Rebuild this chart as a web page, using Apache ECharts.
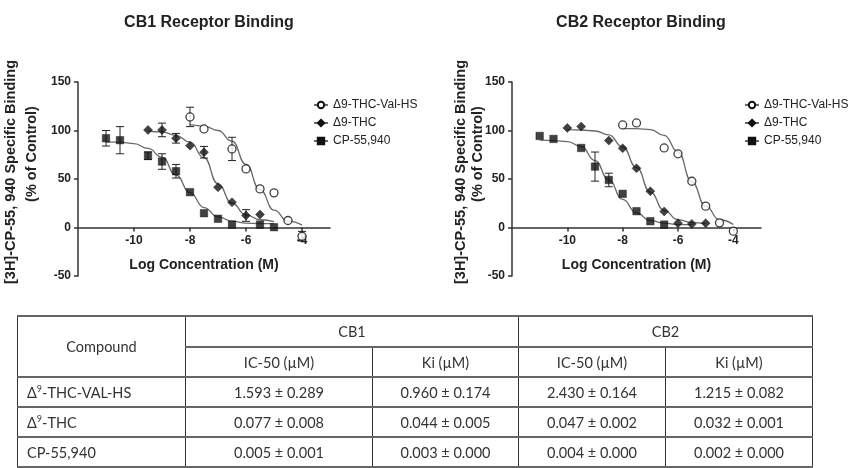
<!DOCTYPE html>
<html>
<head>
<meta charset="utf-8">
<script src="https://cdn.jsdelivr.net/npm/echarts@6/dist/echarts.min.js"></script>
<style>
  html, body { margin:0; padding:0; background:#fff; }
  #chart { position:absolute; left:0; top:0; width:864px; height:468px; }
  #tbl { position:absolute; left:17px; top:315px; border-collapse:collapse; table-layout:fixed;
         font-family: Lato, 'Open Sans', 'Liberation Sans', sans-serif; font-size:14.5px; color:#333; }
  #tbl td { border-left:1px solid #333; border-right:1px solid #333; border-top:2px solid #666; border-bottom:2px solid #666;
            text-align:center; padding:0; font-weight:normal; }
  #tbl td.lbl { text-align:left; padding-left:9px; }
  #tbl sup { font-size:9px; line-height:0; }
</style>
</head>
<body>
<div id="chart"></div>
<table id="tbl"></table>
<script>
// ---------- data ----------
const compounds = ['Δ9-THC-Val-HS', 'Δ9-THC', 'CP-55,940'];
const xTickValues = [-10, -8, -6, -4];
const yTickValues = [-50, 0, 50, 100, 150];

// CB1 measured points (log M, % of control) and SEM
const cb1ValX = [-8, -7.5, -6.5, -6, -5.5, -5, -4.5, -4];
const cb1ValY = [114, 101.6, 81, 60.4, 39.8, 35.7, 7.2, -9];
const cb1ValErr = [10, 0, 12, 0, 0, 0, 0, 5];
const cb1ThcX = [-9.5, -9, -8.5, -8, -7.5, -7, -6.5, -6, -5.5];
const cb1ThcY = [100.6, 100.6, 92, 84.4, 77.6, 41.5, 26, 12.4, 13.4];
const cb1ThcErr = [0, 7, 5, 0, 6, 0, 0, 6, 0];
const cb1CpX = [-11, -10.5, -9.5, -9, -8.5, -8, -7.5, -7, -6.5, -5.5, -5];
const cb1CpY = [92, 90, 74, 68, 58, 36.4, 14.7, 9, 3, 3, 0.3];
const cb1CpErr = [8, 14, 4, 8, 7, 0, 0, 0, 0, 0, 0];

// CB1 fitted curves
const cb1ValFitX = [-8, -7.5, -7, -6.5, -6, -5.5, -5, -4.5, -4];
const cb1ValFitY = [106, 104.5, 100, 89, 65, 39, 18, 6.5, 2.5];
const cb1ThcFitX = [-9.5, -9, -8.5, -8, -7.5, -7, -6.5, -6, -5.5, -5];
const cb1ThcFitY = [99.5, 98.5, 95, 88, 72, 45, 25, 13, 8, 6];
const cb1CpFitX = [-11, -10.5, -10, -9.5, -9, -8.5, -8, -7.5, -7, -6.5, -6, -5.5, -5];
const cb1CpFitY = [88, 88, 86.5, 81.5, 72.5, 54, 36, 20.5, 11, 6.5, 4.5, 4, 4];

// CB2 measured points
const cb2ValX = [-8, -7.5, -6.5, -6, -5.5, -5, -4.5, -4];
const cb2ValY = [105.7, 107.8, 82, 76, 47.7, 22, 4.8, -3.8];
const cb2ValErr = [0, 0, 0, 0, 0, 0, 0, 0];
const cb2ThcX = [-10, -9.5, -8.5, -8, -7.5, -7, -6.5, -6, -5.5, -5];
const cb2ThcY = [102.7, 104, 89.6, 81.7, 61, 37.4, 16.5, 4.5, 3.7, 4.5];
const cb2ThcErr = [0, 0, 0, 0, 0, 0, 0, 0, 0, 0];
const cb2CpX = [-11, -10.5, -9.5, -9, -8.5, -8, -7.5, -7, -6.5];
const cb2CpY = [94.4, 91.3, 82, 62.8, 49, 34.7, 16.8, 6.5, 3];
const cb2CpErr = [0, 0, 0, 15, 7, 0, 0, 0, 0];

// CB2 fitted curves
const cb2ValFitX = [-8, -7.5, -7, -6.5, -6, -5.5, -5, -4.5, -4];
const cb2ValFitY = [102, 102, 101, 95, 78, 47, 22, 8, 3];
const cb2ThcFitX = [-10, -9.5, -9, -8.5, -8, -7.5, -7, -6.5, -6, -5.5, -5];
const cb2ThcFitY = [101, 100.5, 99.5, 95.5, 83, 62, 36.5, 17.5, 8, 5, 4];
const cb2CpFitX = [-11, -10.5, -10, -9.5, -9, -8.5, -8, -7.5, -7, -6.5, -6, -5.5];
const cb2CpFitY = [90, 89.5, 88.5, 83.5, 69, 49, 29, 15, 7, 4.5, 3, 3];

// table
const tableHeaderGroups = ['CB1', 'CB2'];
const tableHeaderCols = ['IC-50 (µM)', 'Ki (µM)', 'IC-50 (µM)', 'Ki (µM)'];
const tableRowLabels = ['Δ<sup>9</sup>-THC-VAL-HS', 'Δ<sup>9</sup>-THC', 'CP-55,940'];
const tableRow1 = ['1.593 ± 0.289', '0.960 ± 0.174', '2.430 ± 0.164', '1.215 ± 0.082'];
const tableRow2 = ['0.077 ± 0.008', '0.044 ± 0.005', '0.047 ± 0.002', '0.032 ± 0.001'];
const tableRow3 = ['0.005 ± 0.001', '0.003 ± 0.000', '0.004 ± 0.000', '0.002 ± 0.000'];

// ---------- build ----------
const FONT = "'Liberation Sans', Arial, sans-serif";
const zip = (xs, ys) => xs.map((x, i) => [x, ys[i]]);
const zipErr = (xs, ys, es) => xs.map((x, i) => [x, ys[i], es[i]]).filter(d => d[2] > 0);

const styles = [
  { symbol: 'circle', size: 8, item: { color: '#fff', borderColor: '#111', borderWidth: 1.3 } },
  { symbol: 'diamond', size: 9, item: { color: '#111', borderColor: '#111', borderWidth: 0.5 } },
  { symbol: 'rect', size: 7.5, item: { color: '#111', borderColor: '#111', borderWidth: 0.5 } }
];

function errRender(params, api) {
  const x = api.value(0), y = api.value(1), e = api.value(2);
  const hi = api.coord([x, y + e]), lo = api.coord([x, y - e]);
  const w = 4;
  const st = { stroke: '#222', lineWidth: 1 };
  return { type: 'group', children: [
    { type: 'line', shape: { x1: hi[0], y1: hi[1], x2: lo[0], y2: lo[1] }, style: st },
    { type: 'line', shape: { x1: hi[0] - w, y1: hi[1], x2: hi[0] + w, y2: hi[1] }, style: st },
    { type: 'line', shape: { x1: lo[0] - w, y1: lo[1], x2: lo[0] + w, y2: lo[1] }, style: st }
  ]};
}

const panels = [
  { fits: [[cb1ValFitX, cb1ValFitY], [cb1ThcFitX, cb1ThcFitY], [cb1CpFitX, cb1CpFitY]],
    pts: [[cb1ValX, cb1ValY, cb1ValErr], [cb1ThcX, cb1ThcY, cb1ThcErr], [cb1CpX, cb1CpY, cb1CpErr]] },
  { fits: [[cb2ValFitX, cb2ValFitY], [cb2ThcFitX, cb2ThcFitY], [cb2CpFitX, cb2CpFitY]],
    pts: [[cb2ValX, cb2ValY, cb2ValErr], [cb2ThcX, cb2ThcY, cb2ThcErr], [cb2CpX, cb2CpY, cb2CpErr]] }
];

const series = [];
panels.forEach((p, gi) => {
  p.fits.forEach((f, si) => {
    series.push({
      type: 'line', name: compounds[si], xAxisIndex: gi, yAxisIndex: gi,
      data: zip(f[0], f[1]), smooth: 0.5, smoothMonotone: 'x',
      symbol: styles[si].symbol, symbolSize: styles[si].size, showSymbol: false,
      itemStyle: styles[si].item,
      lineStyle: { color: '#6a6a6a', width: 1.3 }, z: 2, silent: true
    });
  });
  p.pts.forEach((d, si) => {
    series.push({
      type: 'custom', xAxisIndex: gi, yAxisIndex: gi, renderItem: errRender,
      data: zipErr(d[0], d[1], d[2]), z: 3, silent: true
    });
    series.push({
      type: 'scatter', name: compounds[si], xAxisIndex: gi, yAxisIndex: gi,
      data: zip(d[0], d[1]), symbol: styles[si].symbol, symbolSize: styles[si].size,
      itemStyle: styles[si].item, z: 4, silent: true
    });
  });
});

const Y_MIN = -50, Y_MAX = 150, GRID_H = 194;
const gridDefs = [
  { left: 78, top: 82, width: 252, height: GRID_H, outerBoundsMode: 'none', containLabel: false },
  { left: 512, top: 82, width: 249, height: GRID_H, outerBoundsMode: 'none', containLabel: false }
];
// shift the x axis up from the grid bottom to the y = 0 line
const zeroOffset = -GRID_H * (0 - Y_MIN) / (Y_MAX - Y_MIN);

const axisLineStyle = { color: '#333', width: 1.5 };
const xAxes = gridDefs.map((g, i) => ({
  type: 'value', gridIndex: i, min: -12, max: -3, interval: 2, position: 'bottom', offset: zeroOffset,
  axisLine: { onZero: false, lineStyle: axisLineStyle },
  axisTick: { show: true, length: 4, inside: false, customValues: xTickValues, lineStyle: axisLineStyle },
  axisLabel: { customValues: xTickValues, margin: 7, fontSize: 12, fontWeight: 'bold', color: '#222', fontFamily: FONT,
               formatter: v => (xTickValues.indexOf(v) >= 0 ? String(v) : '') },
  splitLine: { show: false },
  name: 'Log Concentration (M)', nameLocation: 'middle', nameGap: 31,
  nameTextStyle: { fontSize: 14, fontWeight: 'bold', color: '#222', fontFamily: FONT }
}));
const yAxes = gridDefs.map((g, i) => ({
  type: 'value', gridIndex: i, min: Y_MIN, max: Y_MAX, interval: 50,
  axisLine: { show: true, onZero: false, lineStyle: axisLineStyle },
  axisTick: { show: true, length: 4, lineStyle: axisLineStyle },
  axisLabel: { margin: 7, fontSize: 12, fontWeight: 'bold', color: '#222', fontFamily: FONT },
  splitLine: { show: false }
}));

const yTitle1 = '[3H]-CP-55, 940 Specific Binding';
const yTitle2 = '(% of Control)';
const ytStyle = { fontSize: 14.5, fontWeight: 'bold', fill: '#222', fontFamily: FONT, textAlign: 'center', textVerticalAlign: 'middle' };
function yTitle(x, y, text) {
  return { type: 'text', x: x, y: y, rotation: Math.PI / 2, style: Object.assign({ text: text }, ytStyle) };
}

const legendBase = {
  orient: 'vertical', itemWidth: 14, itemHeight: 8, itemGap: 6, top: 99, padding: 0, selectedMode: false,
  data: compounds, textStyle: { fontSize: 12, color: '#222', fontFamily: FONT }
};

const chart = echarts.init(document.getElementById('chart'), null, { renderer: 'canvas' });
chart.setOption({
  animation: false,
  backgroundColor: '#fff',
  title: [
    { text: 'CB1 Receptor Binding', left: 204, top: 10, textAlign: 'center',
      textStyle: { fontSize: 16, fontWeight: 'bold', color: '#222', fontFamily: FONT } },
    { text: 'CB2 Receptor Binding', left: 636, top: 10, textAlign: 'center',
      textStyle: { fontSize: 16, fontWeight: 'bold', color: '#222', fontFamily: FONT } }
  ],
  legend: [
    Object.assign({}, legendBase, { left: 313 }),
    Object.assign({}, legendBase, { left: 744 })
  ],
  grid: gridDefs,
  xAxis: xAxes,
  yAxis: yAxes,
  series: series,
  graphic: [
    yTitle(11, 172, yTitle1), yTitle(32, 154, yTitle2),
    yTitle(461, 172, yTitle1), yTitle(478, 154, yTitle2)
  ]
});

// table
const tbl = document.getElementById('tbl');
const colW = [168, 187, 146, 147, 147];
let html = '<colgroup>' + colW.map(w => '<col style="width:' + w + 'px">').join('') + '</colgroup>';
html += '<tr style="height:31px"><td rowspan="2">Compound</td>' +
        tableHeaderGroups.map(g => '<td colspan="2">' + g + '</td>').join('') + '</tr>';
html += '<tr style="height:30px">' + tableHeaderCols.map(c => '<td>' + c + '</td>').join('') + '</tr>';
[tableRow1, tableRow2, tableRow3].forEach((r, i) => {
  html += '<tr style="height:30px"><td class="lbl">' + tableRowLabels[i] + '</td>' +
          r.map(v => '<td>' + v + '</td>').join('') + '</tr>';
});
tbl.innerHTML = html;
</script>
</body>
</html>
